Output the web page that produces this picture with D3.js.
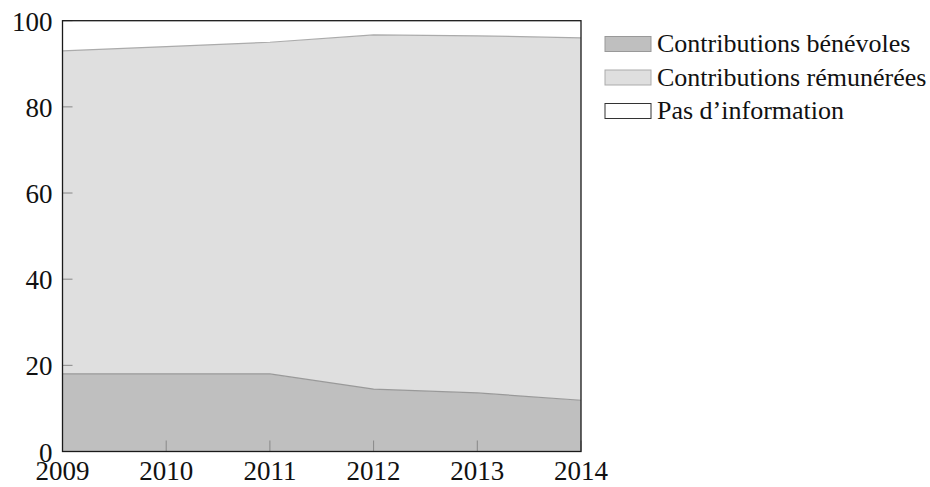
<!DOCTYPE html>
<html>
<head>
<meta charset="utf-8">
<script src="https://cdn.jsdelivr.net/npm/d3@7"></script>
<style>
  svg text { font-family: "Liberation Serif", "Times New Roman", serif !important; }
</style>
</head>
<body style="margin:0">
<div id="container"></div>
<script>
/* CONSTANTS AND GLOBALS */
const width = 930,
  height = 487,
  margin = { top: 20.7, bottom: 35.5, left: 62.5, right: 349 },
  fontName = '"Liberation Serif"';

// data (percent)
const years = [2009, 2010, 2011, 2012, 2013, 2014];
const benevoles = [18, 18, 18, 14.5, 13.6, 11.9];
const remunerees = [75, 76, 77, 82.2, 82.9, 84.1];
const pasInfo = [7, 6, 5, 3.3, 3.5, 4];
const yTicks = [0, 20, 40, 60, 80, 100];

const seriesKeys = ["benevoles", "remunerees", "pasInfo"];
const seriesLabels = ["Contributions bénévoles", "Contributions rémunérées", "Pas d\u2019information"];
const fills = ["#bfbfbf", "#dfdfdf", "#ffffff"];
const strokes = ["#999999", "#ababab", "#333333"];

let xScale, yScale, stacked;

/* INITIALIZING FUNCTION */
function init() {
  const rows = years.map((y, i) => ({
    year: y,
    benevoles: benevoles[i],
    remunerees: remunerees[i],
    pasInfo: pasInfo[i]
  }));

  stacked = d3.stack().keys(seriesKeys)(rows);

  xScale = d3.scaleLinear()
    .domain(d3.extent(years))
    .range([margin.left, width - margin.right]);

  yScale = d3.scaleLinear()
    .domain([0, 100])
    .range([height - margin.bottom, margin.top]);

  draw();
}

/* DRAW FUNCTION */
function draw() {
  const svg = d3.select("#container")
    .append("svg")
    .attr("width", width)
    .attr("height", height)
    .attr("font-family", "Liberation Serif");

  const area = d3.area()
    .x(d => xScale(d.data.year))
    .y0(d => yScale(d[0]))
    .y1(d => yScale(d[1]));

  const topLine = d3.line()
    .x(d => xScale(d.data.year))
    .y(d => yScale(d[1]));

  // areas
  svg.selectAll("path.area")
    .data(stacked)
    .join("path")
    .attr("class", "area")
    .attr("d", area)
    .attr("fill", (d, i) => fills[i]);

  // boundary lines of the two lower series
  svg.selectAll("path.edge")
    .data(stacked.slice(0, 2))
    .join("path")
    .attr("class", "edge")
    .attr("d", topLine)
    .attr("fill", "none")
    .attr("stroke", (d, i) => strokes[i])
    .attr("stroke-width", 1.2);

  // inner ticks, left and bottom only
  const x0 = xScale.range()[0], y0 = yScale.range()[0];
  svg.selectAll("line.ytick")
    .data(yTicks)
    .join("line")
    .attr("class", "ytick")
    .attr("x1", x0).attr("x2", x0 + 10)
    .attr("y1", d => yScale(d)).attr("y2", d => yScale(d))
    .attr("stroke", "#888").attr("stroke-width", 1);

  svg.selectAll("line.xtick")
    .data(years)
    .join("line")
    .attr("class", "xtick")
    .attr("x1", d => xScale(d)).attr("x2", d => xScale(d))
    .attr("y1", y0).attr("y2", y0 - 11)
    .attr("stroke", "#888").attr("stroke-width", 1);

  // frame
  svg.append("rect")
    .attr("x", x0)
    .attr("y", margin.top)
    .attr("width", xScale.range()[1] - x0)
    .attr("height", y0 - margin.top)
    .attr("fill", "none")
    .attr("stroke", "#1a1a1a")
    .attr("stroke-width", 1.3);

  // tick labels
  svg.selectAll("text.ylab")
    .data(yTicks)
    .join("text")
    .attr("class", "ylab")
    .attr("x", x0 - 10)
    .attr("y", d => yScale(d) + 10)
    .attr("text-anchor", "end")
    .attr("font-size", 27)
    .style("font-family", fontName, "important")
    .attr("fill", "#111")
    .text(d => d);

  svg.selectAll("text.xlab")
    .data(years)
    .join("text")
    .attr("class", "xlab")
    .attr("x", d => xScale(d))
    .attr("y", 480)
    .attr("text-anchor", "middle")
    .attr("font-size", 27)
    .style("font-family", fontName, "important")
    .attr("fill", "#111")
    .text(d => d);

  // legend
  const legend = svg.append("g")
    .attr("transform", "translate(605, 36.5)");

  const items = legend.selectAll("g")
    .data(seriesLabels)
    .join("g")
    .attr("transform", (d, i) => `translate(0, ${i * 33.5})`);

  items.append("rect")
    .attr("width", 46)
    .attr("height", 15)
    .attr("fill", (d, i) => fills[i])
    .attr("stroke", (d, i) => strokes[i])
    .attr("stroke-width", 1);

  items.append("text")
    .attr("x", 52)
    .attr("y", 15.5)
    .attr("font-size", 26)
    .style("font-family", fontName, "important")
    .attr("fill", "#111")
    .text(d => d);
}

init();
</script>
</body>
</html>
